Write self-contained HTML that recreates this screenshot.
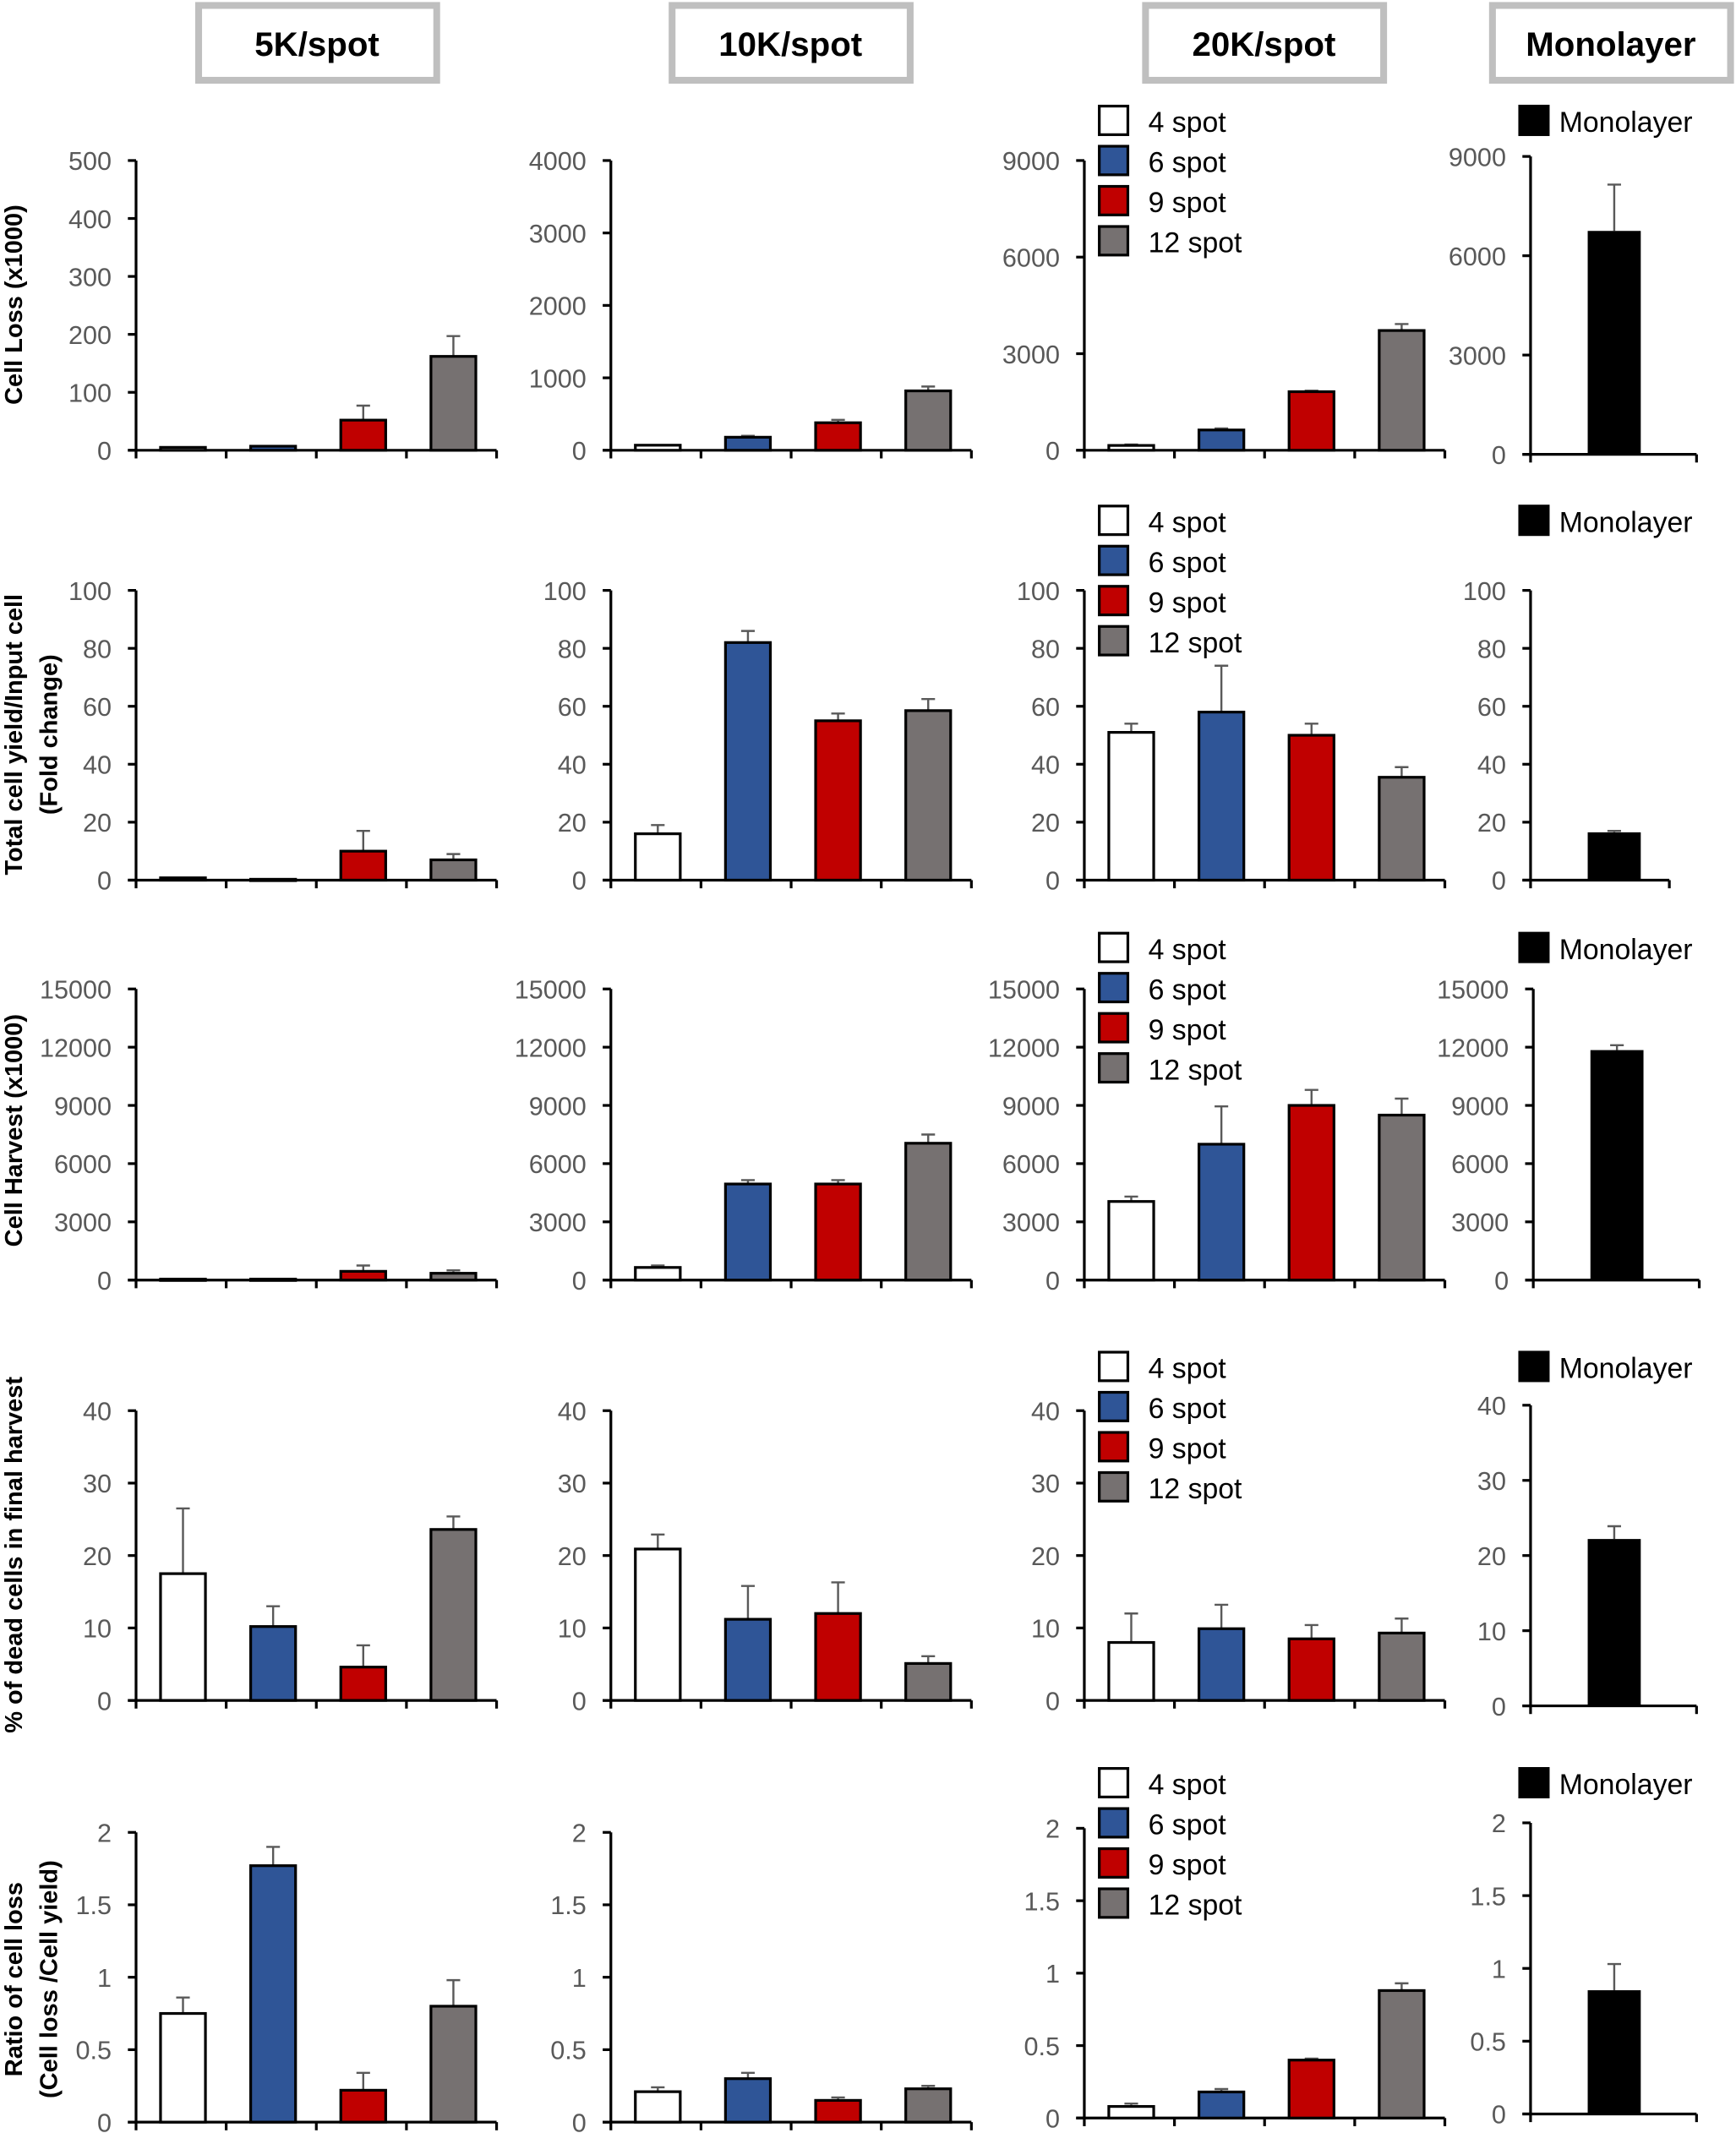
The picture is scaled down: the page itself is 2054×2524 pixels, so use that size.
<!DOCTYPE html>
<html><head><meta charset="utf-8"><style>
html,body{margin:0;padding:0;background:#fff}
svg{display:block}
text{font-family:"Liberation Sans",sans-serif}
</style></head><body>
<svg id="s" width="2054" height="2524" viewBox="0 0 1276 1568" preserveAspectRatio="none" xmlns="http://www.w3.org/2000/svg">
<g font-weight="bold" font-size="25" text-anchor="middle" fill="#000">
<rect x="146" y="4" width="175" height="55" fill="#fff" stroke="#bfbfbf" stroke-width="5"/><text x="233" y="41">5K/spot</text>
<rect x="494" y="4" width="175" height="55" fill="#fff" stroke="#bfbfbf" stroke-width="5"/><text x="581" y="41">10K/spot</text>
<rect x="842" y="4" width="175" height="55" fill="#fff" stroke="#bfbfbf" stroke-width="5"/><text x="929" y="41">20K/spot</text>
<rect x="1097" y="4" width="175" height="55" fill="#fff" stroke="#bfbfbf" stroke-width="5"/><text x="1184" y="41">Monolayer</text>
</g>
<g font-weight="bold" font-size="18" text-anchor="middle" fill="#000">
<text transform="translate(16,224) rotate(-90)">Cell Loss (x1000)</text>
<text transform="translate(16,540) rotate(-90)">Total cell yield/Input cell</text>
<text transform="translate(42,540) rotate(-90)">(Fold change)</text>
<text transform="translate(16,831) rotate(-90)">Cell Harvest (x1000)</text>
<text transform="translate(16,1143) rotate(-90)">% of dead cells in final harvest</text>
<text transform="translate(16,1455) rotate(-90)">Ratio of cell loss</text>
<text transform="translate(42,1455) rotate(-90)">(Cell loss /Cell yield)</text>
</g>
</svg>
<script>
const s=document.getElementById('s');const NS='http://www.w3.org/2000/svg';
function el(t,a,txt){const e=document.createElementNS(NS,t);for(const k in a)e.setAttribute(k,a[k]);if(txt!==undefined)e.textContent=txt;s.appendChild(e);return e;}
const cols=['#ffffff','#2f5597','#c00000','#767171'];
function chart(x0,top,zero,max,ticks,data,len,mono){
  const h=zero-top;const Y=v=>zero-v/max*h;
  el('line',{x1:x0,y1:top,x2:x0,y2:zero,stroke:'#000','stroke-width':2});
  el('line',{x1:x0-6,y1:zero,x2:x0+len,y2:zero,stroke:'#000','stroke-width':2});
  ticks.forEach(t=>{const y=Y(t);el('line',{x1:x0-6,y1:y,x2:x0,y2:y,stroke:'#000','stroke-width':2});
    el('text',{x:x0-18,y:y+7,'text-anchor':'end','font-size':19,fill:'#595959'},String(t));});
  if(mono){
    el('line',{x1:x0,y1:zero,x2:x0,y2:zero+6,stroke:'#000','stroke-width':2});
    el('line',{x1:x0+len,y1:zero,x2:x0+len,y2:zero+6,stroke:'#000','stroke-width':2});
    const [v,e]=data[0];const bx=x0+42,w=39,cx=bx+w/2;
    if(e){el('line',{x1:cx,y1:Y(v),x2:cx,y2:Y(v+e),stroke:'#595959','stroke-width':1.5});el('line',{x1:cx-5,y1:Y(v+e),x2:cx+5,y2:Y(v+e),stroke:'#595959','stroke-width':1.5});}
    el('rect',{x:bx,y:Y(v),width:w,height:zero-Y(v),fill:'#000'});
    return;
  }
  for(let i=0;i<=4;i++){const x=x0+i*len/4;el('line',{x1:x,y1:zero,x2:x,y2:zero+6,stroke:'#000','stroke-width':2});}
  data.forEach((d,i)=>{const [v,e]=d;const bx=x0+18+i*66.25,w=33,cx=bx+w/2;
    if(e){el('line',{x1:cx,y1:Y(v),x2:cx,y2:Y(v+e),stroke:'#595959','stroke-width':1.5});el('line',{x1:cx-5,y1:Y(v+e),x2:cx+5,y2:Y(v+e),stroke:'#595959','stroke-width':1.5});}
    el('rect',{x:bx,y:Y(v),width:w,height:Math.max(zero-Y(v),1),fill:cols[i],stroke:'#000','stroke-width':2});});
}
function legend(y){const labs=['4 spot','6 spot','9 spot','12 spot'];
  labs.forEach((l,i)=>{const yy=y+i*29.5;el('rect',{x:808,y:yy-11,width:21,height:21,fill:cols[i],stroke:'#000','stroke-width':2});
    el('text',{x:844,y:yy+8,'font-size':21,fill:'#000'},l);});
  el('rect',{x:1116,y:y-12,width:23,height:23,fill:'#000'});el('text',{x:1146,y:y+8,'font-size':21,fill:'#000'},'Monolayer');}
const L=265;
// Row1
chart(100,118,331,500,[0,100,200,300,400,500],[[5,0],[7,0],[52,25],[162,35]],L);
chart(449,118,331,4000,[0,1000,2000,3000,4000],[[70,0],[180,20],[380,40],[820,60]],L);
chart(797,118,331,9000,[0,3000,6000,9000],[[150,30],[630,50],[1820,30],[3720,200]],L);
chart(1125,115,334,9000,[0,3000,6000,9000],[[6750,1400]],122,true);
legend(89);
// Row2
const t2=[0,20,40,60,80,100];
chart(100,434,647,100,t2,[[0.8,0],[0.3,0],[10,7],[7,2]],L);
chart(449,434,647,100,t2,[[16,3],[82,4],[55,2.5],[58.5,4]],L);
chart(797,434,647,100,t2,[[51,3],[58,16],[50,4],[35.5,3.5]],L);
chart(1125,434,647,100,t2,[[16.5,0.5]],102,true);
legend(383);
// Row3
const t3=[0,3000,6000,9000,12000,15000];
chart(100,727,941,15000,t3,[[50,0],[50,0],[450,300],[350,150]],L);
chart(449,727,941,15000,t3,[[650,100],[4950,200],[4950,200],[7050,450]],L);
chart(797,727,941,15000,t3,[[4050,250],[7000,1950],[9000,800],[8500,850]],L);
chart(1127,727,941,15000,t3,[[11850,250]],122,true);
legend(697);
// Row4
const t4=[0,10,20,30,40];
chart(100,1037,1250,40,t4,[[17.5,9],[10.2,2.8],[4.6,3],[23.6,1.8]],L);
chart(449,1037,1250,40,t4,[[20.9,2],[11.2,4.6],[12,4.3],[5.1,1]],L);
chart(797,1037,1250,40,t4,[[8,4],[9.9,3.3],[8.5,1.9],[9.3,2]],L);
chart(1125,1033,1254,40,t4,[[22.2,1.7]],122,true);
legend(1005);
// Row5
const t5=[0,0.5,1,1.5,2];
chart(100,1347,1560,2,t5,[[0.75,0.11],[1.77,0.13],[0.22,0.12],[0.8,0.18]],L);
chart(449,1347,1560,2,t5,[[0.21,0.03],[0.3,0.04],[0.15,0.02],[0.23,0.02]],L);
chart(797,1344,1557,2,t5,[[0.08,0.02],[0.18,0.02],[0.4,0.01],[0.88,0.05]],L);
chart(1125,1340,1554,2,t5,[[0.85,0.18]],122,true);
legend(1311);
</script>
</body></html>
